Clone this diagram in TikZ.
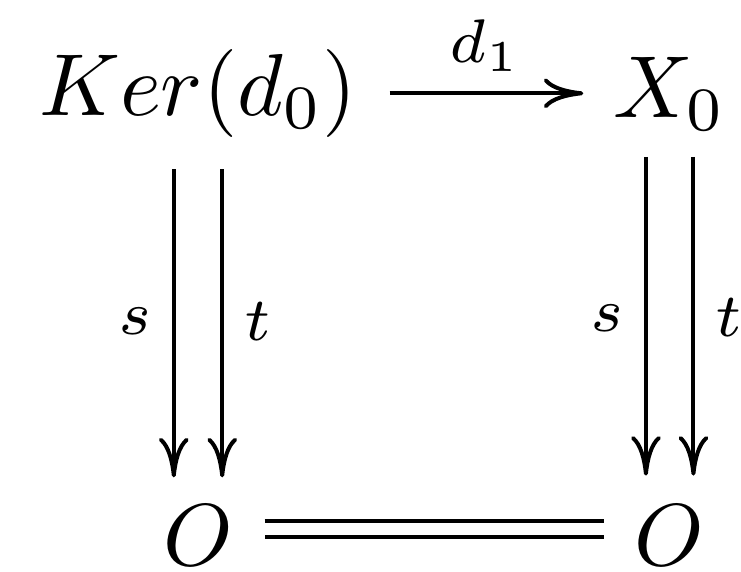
\documentclass[tikz,border=0pt]{standalone}
\usetikzlibrary{arrows.meta}

\begin{document}
\begin{tikzpicture}[x=1pt,y=1pt,line width=0.45pt,
    >={Computer Modern Rightarrow[length=4.5pt,width=3.4pt]},
    obj/.style={inner sep=0pt,anchor=base},
    lbl/.style={font=\scriptsize,inner sep=2.3pt}]
  \useasboundingbox (0,0) rectangle (84.2,-64.9);
  \node[obj] (ker) at (22.5,-13.1) {$Ker(d_0)$};
  \node[obj] (x0) at (76.1,-13.3) {$X_0$};
  \node[obj] (oL) at (22.5,-64.3) {$O$};
  \node[obj] (oR) at (76.1,-64.3) {$O$};
  \draw[->,shorten <=3.5pt,shorten >=3.2pt] (ker.east) -- (ker.east -| x0.west)
    node[lbl,midway,above] {$d_1$};
  \draw[->,shorten <=3.4pt,shorten >=3pt] ([xshift=-2.75pt]ker.south) -- ([xshift=-2.75pt]oL.north)
    node[lbl,midway,left] {$s$};
  \draw[->,shorten <=3.4pt,shorten >=3pt] ([xshift=2.75pt]ker.south) -- ([xshift=2.75pt]oL.north)
    node[lbl,midway,right] {$t$};
  \draw[->,shorten <=2.8pt,shorten >=3.2pt] ([xshift=-2.7pt]x0.south) -- ([xshift=-2.7pt]oR.north)
    node[lbl,midway,left] {$s$};
  \draw[->,shorten <=2.8pt,shorten >=3.2pt] ([xshift=2.7pt]x0.south) -- ([xshift=2.7pt]oR.north)
    node[lbl,midway,right] {$t$};
  \draw[double,double distance=1.35pt,shorten <=3.4pt,shorten >=3.3pt]
    ([yshift=0.8pt]oL.east) -- ([yshift=0.8pt]oR.west);
\end{tikzpicture}
\end{document}
